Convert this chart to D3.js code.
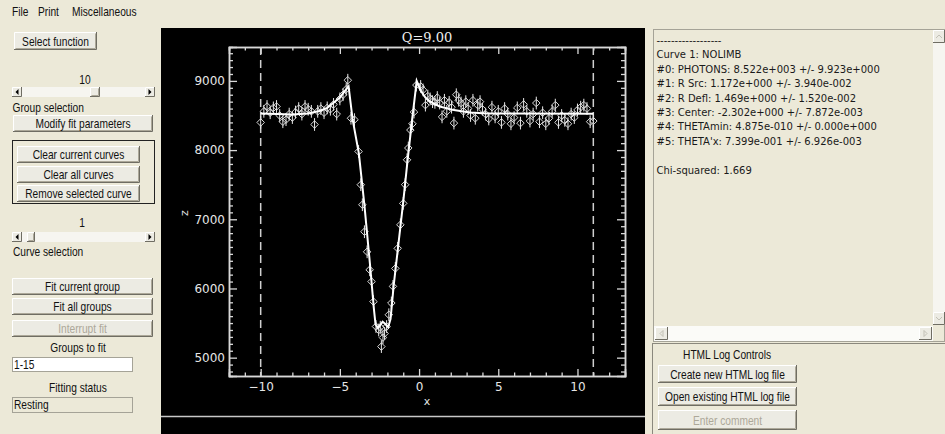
<!DOCTYPE html>
<html>
<head>
<meta charset="utf-8">
<script src="https://cdn.jsdelivr.net/npm/d3@7"></script>
<style>
  body { margin: 0; background: #ece9d8; overflow: hidden; }
  svg { display: block; }
</style>
</head>
<body>
<div id="app"></div>
<script>
// ---- données ----
const obsX = [
  -10.0, -9.8, -9.6, -9.4, -9.2, -9.0, -8.8, -8.6, -8.4, -8.2, -8.0, -7.8, -7.6, -7.4,
  -7.2, -7.0, -6.8, -6.6, -6.4, -6.2, -6.0, -5.8, -5.6, -5.4, -5.2, -5.0, -4.8, -4.6,
  -4.5, -4.3, -4.08, -3.82, -3.68, -3.58, -3.45, -3.28, -3.12, -3.0, -2.88, -2.72, -2.55,
  -2.45, -2.38, -2.28, -2.18, -2.05, -1.91, -1.75, -1.65, -1.5, -1.35, -1.18, -1.0, -0.88,
  -0.76, -0.68, -0.55, -0.42, -0.32, -0.17,
  0.1, 0.25, 0.4, 0.55, 0.7, 0.85, 1.0, 1.15, 1.3, 1.45, 1.6, 1.75, 1.9, 2.05, 2.2, 2.35,
  2.5, 2.65, 2.8, 2.95, 3.1, 3.25, 3.4, 3.55, 3.7, 3.85, 4.0, 4.2, 4.4, 4.6, 4.8, 5.0, 5.2,
  5.4, 5.6, 5.8, 6.0, 6.2, 6.4, 6.6, 6.8, 7.0, 7.2, 7.4, 7.6, 7.8, 8.0, 8.2, 8.4, 8.6, 8.8,
  9.0, 9.2, 9.4, 9.6, 9.8, 10.0, 10.2, 10.4, 10.6, 10.8, 11.0
];
const obsY = [
  8400, 8560, 8630, 8540, 8610, 8630, 8500, 8410, 8440, 8520, 8470, 8550, 8600, 8520,
  8630, 8590, 8560, 8370, 8560, 8600, 8540, 8610, 8590, 8660, 8520, 8740, 8800, 8880,
  9010, 8460, 8440, 7980, 7500, 7210, 6820, 6530, 6270, 6100, 5810, 5450, 5400,
  5440, 5160, 5290, 5350, 5450, 5620, 5790, 6030, 6290, 6580, 6920, 7230, 7500,
  7860, 8030, 8290, 8380, 8550, 8940,
  8920, 8870, 8650, 8780, 8740, 8700, 8690, 8760, 8680, 8480, 8720, 8560, 8690, 8620, 8390, 8800,
  8720, 8680, 8560, 8700, 8600, 8500, 8720, 8460, 8650, 8700, 8590, 8520, 8450, 8620, 8480, 8560, 8400,
  8600, 8520, 8380, 8470, 8610, 8390, 8660, 8560, 8420, 8520, 8680, 8410, 8540, 8380, 8460, 8560, 8650, 8400,
  8500, 8430, 8380, 8520, 8470, 8580, 8620, 8650, 8600, 8410, 8420
];
const obsErr = 92;

const fitX = [
  -10, -9, -8, -7, -6.3, -5.8, -5.36, -5.0, -4.72, -4.45, -4.2, -3.8, -3.45, -3.1, -2.85,
  -2.75, -2.6, -2.45, -2.3, -2.15, -1.95, -1.8, -1.6, -1.3, -1.0, -0.75, -0.45, -0.15,
  0.1, 0.4, 0.7, 1.3, 2.2, 3.2, 4.3, 11
];
const fitY = [
  8530, 8520, 8515, 8530, 8565, 8610, 8690, 8760, 8845, 8920, 8450, 7950, 7200, 6350, 5700,
  5480, 5430, 5470, 5520, 5490, 5440, 5560, 6050, 6650, 7250, 7800, 8420, 9000,
  8860, 8760, 8700, 8630, 8578, 8542, 8530, 8525
];

const xDomain = [-12, 13];
const yDomain = [4735, 9490];
const xMajorTicks = [-10, -5, 0, 5, 10];
const yMajorTicks = [5000, 6000, 7000, 8000, 9000];
const cutLimits = [-10, 11];
const plotTitle = "Q=9.00";
const xLabel = "x";
const yLabel = "z";

const menuItems = ["File", "Print", "Miscellaneous"];
const fitLines = [
  "------------------",
  "Curve 1: NOLIMB",
  "#0: PHOTONS: 8.522e+003 +/- 9.923e+000",
  "#1: R Src: 1.172e+000 +/- 3.940e-002",
  "#2: R Defl: 1.469e+000 +/- 1.520e-002",
  "#3: Center: -2.302e+000 +/- 7.872e-003",
  "#4: THETAmin: 4.875e-010 +/- 0.000e+000",
  "#5: THETA'x: 7.399e-001 +/- 6.926e-003",
  "",
  "Chi-squared: 1.669"
];

// ---- mise en page ----
const W = 945, H = 434;
const uiFont = "'Liberation Sans', Arial, sans-serif";
const face = '#ece9d8';
const squeeze = 0.85; // police d'interface plus étroite (Tahoma)

const svg = d3.select('#app').append('svg')
  .attr('width', W)
  .attr('height', H)
  .style('font-family', uiFont)
  .style('font-size', '12px');

svg.append('rect').attr('width', W).attr('height', H).attr('fill', face);

function label(x, y, txt, anchor, color) {
  return svg.append('text')
    .attr('transform', `translate(${x},${y}) scale(${squeeze},1)`)
    .attr('text-anchor', anchor || 'start')
    .attr('fill', color || '#111')
    .text(txt);
}

function button(x, y, w, h, txt, disabled) {
  const g = svg.append('g');
  g.append('rect').attr('x', x).attr('y', y).attr('width', w).attr('height', h).attr('fill', '#ecebe3');
  g.append('path').attr('d', `M${x + 0.5},${y + h - 1}V${y + 0.5}H${x + w - 1}`)
    .attr('fill', 'none').attr('stroke', '#ffffff');
  g.append('path').attr('d', `M${x + 1.5},${y + h - 1.5}H${x + w - 1.5}V${y + 1.5}`)
    .attr('fill', 'none').attr('stroke', '#aca899');
  g.append('path').attr('d', `M${x},${y + h - 0.5}H${x + w - 0.5}V${y}`)
    .attr('fill', 'none').attr('stroke', '#6f6d63');
  if (txt) label(x + w / 2, y + h / 2 + 4.5, txt, 'middle', disabled ? '#aca899' : '#111');
}

function scrollArrow(x, y, w, h, dir, disabled) {
  const g = svg.append('g');
  g.append('rect').attr('x', x).attr('y', y).attr('width', w).attr('height', h).attr('fill', '#ecebe3');
  g.append('path').attr('d', `M${x + 0.5},${y + h - 1}V${y + 0.5}H${x + w - 1}`).attr('fill', 'none').attr('stroke', '#fff');
  g.append('path').attr('d', `M${x},${y + h - 0.5}H${x + w - 0.5}V${y}`).attr('fill', 'none').attr('stroke', '#6f6d63');
  const cx = x + w / 2, cy = y + h / 2;
  const tri = {
    left: `M${cx + 1.5},${cy - 3}L${cx - 1.5},${cy}L${cx + 1.5},${cy + 3}Z`,
    right: `M${cx - 1.5},${cy - 3}L${cx + 1.5},${cy}L${cx - 1.5},${cy + 3}Z`,
    up: `M${cx - 3},${cy + 1.5}L${cx},${cy - 1.5}L${cx + 3},${cy + 1.5}`,
    down: `M${cx - 3},${cy - 1.5}L${cx},${cy + 1.5}L${cx + 3},${cy - 1.5}`
  }[dir];
  if (disabled) {
    g.append('path').attr('d', tri).attr('fill', 'none').attr('stroke', '#c2c0b5');
  } else {
    g.append('path').attr('d', tri).attr('fill', '#000');
  }
}

function hScroll(x, y, w, h, thumbX, thumbW) {
  svg.append('rect').attr('x', x).attr('y', y).attr('width', w).attr('height', h).attr('fill', '#f6f5f0');
  scrollArrow(x, y, h, h, 'left');
  scrollArrow(x + w - h, y, h, h, 'right');
  button(thumbX, y, thumbW, h, '');
}

function sunken(x, y, w, h, fill) {
  svg.append('rect').attr('x', x + 0.5).attr('y', y + 0.5).attr('width', w - 1).attr('height', h - 1)
    .attr('fill', fill).attr('stroke', '#a5a397');
}

// ---- barre de menus ----
menuItems.forEach((d, i) => label([12, 38, 72][i], 16, d));

// ---- panneau de gauche ----
button(14, 32, 83, 18, 'Select function');
label(85, 84, '10', 'middle');
hScroll(12, 87, 143, 10, 90, 10);
label(12.5, 112, 'Group selection');
button(13, 115, 140, 17, 'Modify fit parameters');

svg.append('rect').attr('x', 12.5).attr('y', 140.5).attr('width', 142).attr('height', 63)
  .attr('fill', 'none').attr('stroke', '#222');
button(17, 146, 123, 17, 'Clear current curves');
button(17, 166, 123, 17, 'Clear all curves');
button(17, 185, 123, 17, 'Remove selected curve');

label(82, 227, '1', 'middle');
hScroll(12, 232, 143, 10, 27, 8);
label(13, 256, 'Curve selection');

button(12, 278, 141, 17, 'Fit current group');
button(12, 298, 141, 17, 'Fit all groups');
button(12, 320, 141, 17, 'Interrupt fit', true);

label(78, 352, 'Groups to fit', 'middle');
sunken(12, 357, 121, 15, '#ffffff');
label(14, 368.5, '1-15');
label(78, 392, 'Fitting status', 'middle');
sunken(12, 397, 121, 16, face);
label(14, 409, 'Resting');

// ---- graphique ----
const panel = { x: 161, y: 28, w: 484, h: 406 };
svg.append('rect').attr('x', panel.x).attr('y', panel.y).attr('width', panel.w).attr('height', panel.h).attr('fill', '#000');
svg.append('line').attr('x1', panel.x).attr('x2', panel.x + panel.w).attr('y1', 416.5).attr('y2', 416.5)
  .attr('stroke', '#c8c8c8').attr('stroke-width', 1.5);

const plot = { left: 229, right: 625, top: 47, bottom: 376 };
const x = d3.scaleLinear().domain(xDomain).range([plot.left, plot.right]);
const y = d3.scaleLinear().domain(yDomain).range([plot.bottom, plot.top]);

const plotFont = "'DejaVu Sans', sans-serif";
const axisColor = '#d8d8d8';

function styleAxis(g) {
  g.select('.domain').attr('stroke', axisColor).attr('stroke-width', 1.5);
  g.selectAll('.tick line').attr('stroke', axisColor).attr('stroke-width', 1.3);
  g.selectAll('.tick text').attr('fill', '#e6e6e6').style('font-family', plotFont).style('font-size', '12px');
}

const xMinor = d3.range(xDomain[0], xDomain[1] + 1).filter(v => v % 5 !== 0);
const yMinor = d3.range(4800, 9500, 100).filter(v => v % 1000 !== 0);

// axe bas
svg.append('g').attr('transform', `translate(0,${plot.bottom})`)
  .call(d3.axisBottom(x).tickValues(xMinor).tickSize(-3.5).tickFormat(''))
  .call(styleAxis);
svg.append('g').attr('transform', `translate(0,${plot.bottom})`)
  .call(d3.axisBottom(x).tickValues(xMajorTicks).tickSize(-7).tickPadding(6))
  .call(styleAxis);
// axe haut
svg.append('g').attr('transform', `translate(0,${plot.top})`)
  .call(d3.axisTop(x).tickValues(xMinor).tickSize(-3.5).tickFormat(''))
  .call(styleAxis);
svg.append('g').attr('transform', `translate(0,${plot.top})`)
  .call(d3.axisTop(x).tickValues(xMajorTicks).tickSize(-7).tickFormat(''))
  .call(styleAxis);
// axe gauche
svg.append('g').attr('transform', `translate(${plot.left},0)`)
  .call(d3.axisLeft(y).tickValues(yMinor).tickSize(-4).tickFormat(''))
  .call(styleAxis);
svg.append('g').attr('transform', `translate(${plot.left},0)`)
  .call(d3.axisLeft(y).tickValues(yMajorTicks).tickSize(-8).tickPadding(4).tickFormat(d3.format('d')))
  .call(styleAxis);
// axe droit
svg.append('g').attr('transform', `translate(${plot.right},0)`)
  .call(d3.axisRight(y).tickValues(yMinor).tickSize(-4).tickFormat(''))
  .call(styleAxis);
svg.append('g').attr('transform', `translate(${plot.right},0)`)
  .call(d3.axisRight(y).tickValues(yMajorTicks).tickSize(-8).tickFormat(''))
  .call(styleAxis);

// titre et étiquettes
svg.append('text').attr('x', 427).attr('y', 42).attr('text-anchor', 'middle')
  .attr('fill', '#eee').style('font-family', "'DejaVu Serif', serif").style('font-size', '13px')
  .text(plotTitle);
svg.append('text').attr('x', 427).attr('y', 405).attr('text-anchor', 'middle')
  .attr('fill', '#e6e6e6').style('font-family', plotFont).style('font-size', '11px')
  .text(xLabel);
svg.append('text').attr('transform', 'translate(188,213) rotate(-90)').attr('text-anchor', 'middle')
  .attr('fill', '#e6e6e6').style('font-family', plotFont).style('font-size', '11px')
  .text(yLabel);

// limites d'ajustement (tirets)
svg.append('g').selectAll('line')
  .data(cutLimits)
  .join('line')
    .attr('x1', d => x(d)).attr('x2', d => x(d))
    .attr('y1', plot.top).attr('y2', plot.bottom)
    .attr('stroke', '#d0d0d0').attr('stroke-width', 1.5)
    .attr('stroke-dasharray', '8,5');

const obs = obsX.map((v, i) => ({ x: v, y: obsY[i] }));

// barres d'erreur
svg.append('g').selectAll('line')
  .data(obs)
  .join('line')
    .attr('x1', d => x(d.x)).attr('x2', d => x(d.x))
    .attr('y1', d => y(d.y - obsErr)).attr('y2', d => y(d.y + obsErr))
    .attr('stroke', '#e8e8e8').attr('stroke-width', 1);

// losanges
const diamond = d3.symbol(d3.symbolDiamond2, 36);
svg.append('g').selectAll('path')
  .data(obs)
  .join('path')
    .attr('transform', d => `translate(${x(d.x)},${y(d.y)})`)
    .attr('d', diamond)
    .attr('fill', 'none')
    .attr('stroke', '#dcdcdc')
    .attr('stroke-width', 1);

// courbe ajustée
const fit = fitX.map((v, i) => [v, fitY[i]]);
svg.append('path')
  .datum(fit)
  .attr('d', d3.line().x(d => x(d[0])).y(d => y(d[1])))
  .attr('fill', 'none')
  .attr('stroke', '#ffffff')
  .attr('stroke-width', 2);

// ---- panneau de droite ----
sunken(653, 29, 292, 313, face);
// barre verticale
svg.append('rect').attr('x', 933).attr('y', 30).attr('width', 12).attr('height', 295).attr('fill', '#f6f5f0');
scrollArrow(933, 30, 12, 13, 'up', true);
scrollArrow(933, 312, 12, 13, 'down', true);
// barre horizontale
svg.append('rect').attr('x', 654).attr('y', 326).attr('width', 279).attr('height', 15).attr('fill', '#fbfbf8');
scrollArrow(655, 327, 13, 13, 'left', true);
scrollArrow(919, 327, 13, 13, 'right', true);

svg.append('g')
  .style('font-family', "'DejaVu Sans', sans-serif")
  .style('font-size', '10px')
  .selectAll('text')
  .data(fitLines)
  .join('text')
    .attr('x', 656.5)
    .attr('y', (d, i) => 44 + i * 14.4)
    .attr('fill', '#1a1a1a')
    .text(d => d);

// contrôles du journal HTML
svg.append('rect').attr('x', 652.5).attr('y', 343.5).attr('width', 300).attr('height', 100)
  .attr('fill', 'none').attr('stroke', '#8a887d');
label(727, 359, 'HTML Log Controls', 'middle');
button(658, 365, 139, 18, 'Create new HTML log file');
button(658, 387, 139, 19, 'Open existing HTML log file');
button(658, 410, 139, 20, 'Enter comment', true);
</script>
</body>
</html>
